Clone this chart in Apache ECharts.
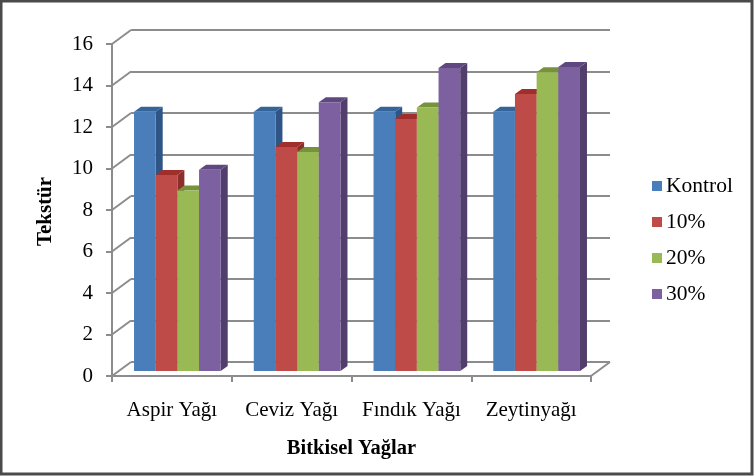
<!DOCTYPE html>
<html><head><meta charset="utf-8">
<style>html,body{margin:0;padding:0;background:#fff}#c{width:754px;height:476px}</style>
<script src="https://cdn.jsdelivr.net/npm/echarts@6/dist/echarts.min.js"></script>
</head><body><div id="c"></div>
<script>
const categories = ['Aspir Yağı','Ceviz Yağı','Fındık Yağı','Zeytinyağı'];
const seriesNames = ['Kontrol','10%','20%','30%'];
const kontrol = [12.5,12.5,12.5,12.5];
const pct10 = [9.45,10.8,12.15,13.35];
const pct20 = [8.7,10.55,12.7,14.4];
const pct30 = [9.7,12.95,14.6,14.65];
const yTicks = [0,2,4,6,8,10,12,14,16];
const allValues = [kontrol,pct10,pct20,pct30];
const colors = [
  {front:'#4A7EBB',side:'#2F5587',top:'#35649B'},
  {front:'#BE4B48',side:'#8B2E2C',top:'#A02F2C'},
  {front:'#98B954',side:'#6F8A38',top:'#76933C'},
  {front:'#7D60A0',side:'#523E6C',top:'#5F4880'}
];
const FONT='"Liberation Serif","Times New Roman",serif';
const GRID='#8C8C8C';
const DX=19, DY=14, BAR_DX=7, BAR_DY=5;
const chart=echarts.init(document.getElementById('c'),null,{renderer:'canvas'});

function barItem(i){
  return function(params,api){
    const p=api.coord([api.value(0),api.value(1)]);
    const base=api.coord([api.value(0),0]);
    const band=api.size([1,0])[0];
    const w=band*0.181;
    const x0=p[0]-2*w+i*w, x1=x0+w, y=p[1], yb=base[1];
    return {type:'group',children:[
      {type:'polygon',shape:{points:[[x1,y],[x1+BAR_DX,y-BAR_DY],[x1+BAR_DX,yb-BAR_DY],[x1,yb]]},style:{fill:colors[i].side}},
      {type:'polygon',shape:{points:[[x0,y],[x0+BAR_DX,y-BAR_DY],[x1+BAR_DX,y-BAR_DY],[x1,y]]},style:{fill:colors[i].top}},
      {type:'rect',shape:{x:x0,y:y,width:w,height:yb-y},style:{fill:colors[i].front}}
    ]};
  };
}
function depthLine(params,api){
  const v=api.value(0);
  const p=api.coord([0,v]);
  const band=api.size([1,0])[0];
  const x=p[0]-band/2;
  const lines=[{type:'line',shape:{x1:x,y1:p[1],x2:x+DX,y2:p[1]-DY},style:{stroke:GRID,lineWidth:2}}];
  if(v===0){
    const xr=x+band*categories.length;
    lines.push({type:'line',shape:{x1:xr,y1:p[1],x2:xr+DX,y2:p[1]-DY},style:{stroke:GRID,lineWidth:2}});
  }
  return {type:'group',children:lines};
}
const hiddenX=i=>({type:'category',gridIndex:i,data:categories,show:false});
const hiddenY=(i,extra)=>Object.assign({type:'value',gridIndex:i,min:0,max:16,interval:2,
  axisLine:{show:false},axisTick:{show:false},axisLabel:{show:false},splitLine:{show:false}},extra||{});

chart.setOption({
  animation:false,
  backgroundColor:'#fff',
  graphic:[{type:'rect',z:100,silent:true,shape:{x:1,y:1,width:751,height:473},style:{fill:'none',stroke:'#4a4a4a',lineWidth:3}}],
  grid:[
    {left:112,right:163,top:44,bottom:100},
    {left:131,right:144,top:30,bottom:114},
    {left:117.5,right:157.5,top:39,bottom:105}
  ],
  legend:{orient:'vertical',left:652,top:174,padding:0,itemWidth:10,itemHeight:10,itemGap:12,icon:'rect',data:seriesNames,
    textStyle:{fontFamily:FONT,fontSize:21.5,color:'#000',padding:[0,0,0,-1],lineHeight:24}},
  xAxis:[
    {type:'category',gridIndex:0,data:categories,name:'Bitkisel Yağlar',nameLocation:'middle',nameGap:62,
      nameTextStyle:{fontFamily:FONT,fontSize:20.5,fontWeight:'bold',color:'#000'},
      axisLine:{lineStyle:{color:GRID,width:2}},axisTick:{show:true,length:6,alignWithLabel:false,lineStyle:{color:GRID,width:2}},
      axisLabel:{fontFamily:FONT,fontSize:21,color:'#000',margin:24,interval:0}},
    hiddenX(1),hiddenX(2)
  ],
  yAxis:[
    {type:'value',gridIndex:0,min:0,max:16,interval:2,name:'Tekstür',nameLocation:'middle',nameGap:56,nameRotate:90,
      nameTextStyle:{fontFamily:FONT,fontSize:21,fontWeight:'bold',color:'#000',padding:[0,0,0,-3]},
      axisLine:{show:true,lineStyle:{color:GRID,width:2}},axisTick:{show:true,length:6,lineStyle:{color:GRID,width:2}},
      axisLabel:{fontFamily:FONT,fontSize:21,color:'#000',margin:19},splitLine:{show:false}},
    hiddenY(1,{splitLine:{show:true,lineStyle:{color:GRID,width:2}}}),
    hiddenY(2)
  ],
  series:[
    {type:'custom',name:'depth',xAxisIndex:0,yAxisIndex:0,clip:false,silent:true,z:1,
      data:yTicks.map(v=>[v]),encode:{y:0},renderItem:depthLine},
    ...seriesNames.map((n,i)=>({type:'custom',name:n,xAxisIndex:2,yAxisIndex:2,clip:false,z:3,
      itemStyle:{color:colors[i].front},
      data:allValues[i].map((v,c)=>[c,v]),encode:{x:0,y:1},renderItem:barItem(i)}))
  ]
});
</script></body></html>
